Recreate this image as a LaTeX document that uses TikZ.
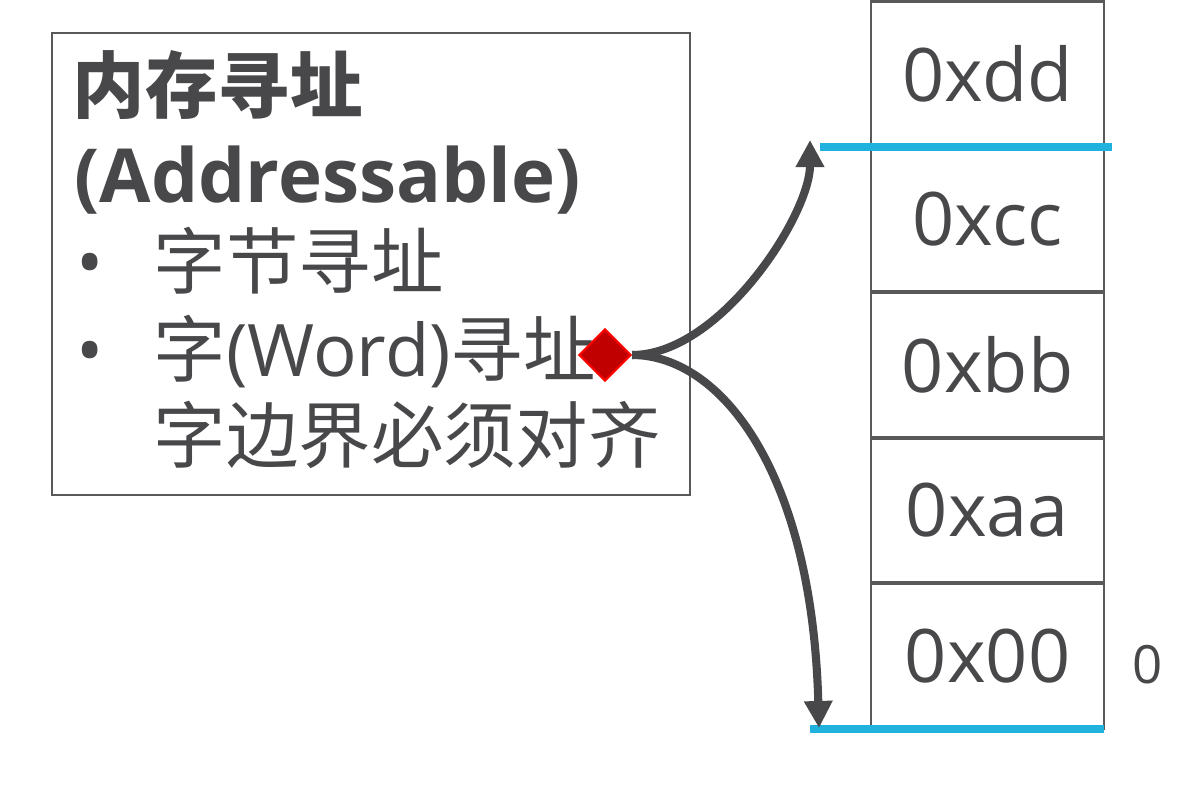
\documentclass[tikz,border=0pt]{standalone}
\usepackage{fontspec}
\setmainfont{Open Sans}
\newfontfamily\cjk{Noto Sans CJK SC}
\usetikzlibrary{matrix}
\usetikzlibrary{shapes.geometric, arrows.meta}
\definecolor{ink}{RGB}{72,72,74}
\definecolor{rim}{RGB}{89,89,89}
\definecolor{sky}{RGB}{33,177,223}
\definecolor{ruby}{RGB}{192,0,0}
\tikzstyle{arrow} = [line width=2.3pt,ink,-{Triangle[length=0.27cm,width=0.27cm]}]
\tikzstyle{bound} = [line width=2.5pt,sky]
\tikzstyle{textline} = [anchor=base west,inner sep=0pt,text=ink,font=\fontsize{20.6}{24}\selectfont]

\begin{document}
\begin{tikzpicture}[x=0.01cm,y=-0.01cm]
	\useasboundingbox (0,0) rectangle (1188,786);
	% left box with the text
	\node[draw=rim,line width=0.7pt,minimum width=6.38cm,minimum height=4.62cm,inner sep=0pt] (frame) at (371,264) {};
	\node[textline] (title) at (72,113) {\cjk\bfseries 内存寻址};
	\node[textline,font=\fontsize{21.2}{24}\selectfont] (addr) at (74,203) {\bfseries (Addressable)};
	\node[textline,anchor=base] (bulletA) at (90,289) {•};
	\node[textline] (itemA) at (153,289) {\cjk 字节寻址};
	\node[textline,anchor=base] (bulletB) at (90,377) {•};
	\node[textline] (itemB) at (153,377) {{\cjk 字}(Word){\cjk 寻址}:};
	\node[textline] (itemC) at (153,463) {\cjk 字边界必须对齐};
	% memory cells
	\matrix[matrix of nodes,
	nodes={draw=rim,line width=0.8pt,minimum width=2.33cm,minimum height=1.441cm,
		text=ink,font=\fontsize{21}{21}\selectfont},
	row sep=-\pgflinewidth]
	(mem) at (987.5,365)
	{
		0xdd \\
		0xcc \\
		0xbb \\
		0xaa \\
		0x00 \\
	};
	\node[text=ink,font=\fontsize{15}{15}\selectfont] (zero) at (1148,665) {0};
	\draw[bound] (820,147) -- (1112,147);
	\draw[bound] (810,729) -- (1104,729);
	% pointer
	\coordinate (hi) at (810,140);
	\coordinate (lo) at (819,728);
	\node[diamond,fill=ruby,draw=red,line width=0.6pt,minimum size=0.52cm,inner sep=0pt] (pin) at (605,355) {};
	\draw[arrow] (pin.east) .. controls (720,355) and (810,215) .. (hi);
	\draw[arrow] (pin.east) .. controls (720,355) and (812,470) .. (lo);
\end{tikzpicture}
\end{document}
